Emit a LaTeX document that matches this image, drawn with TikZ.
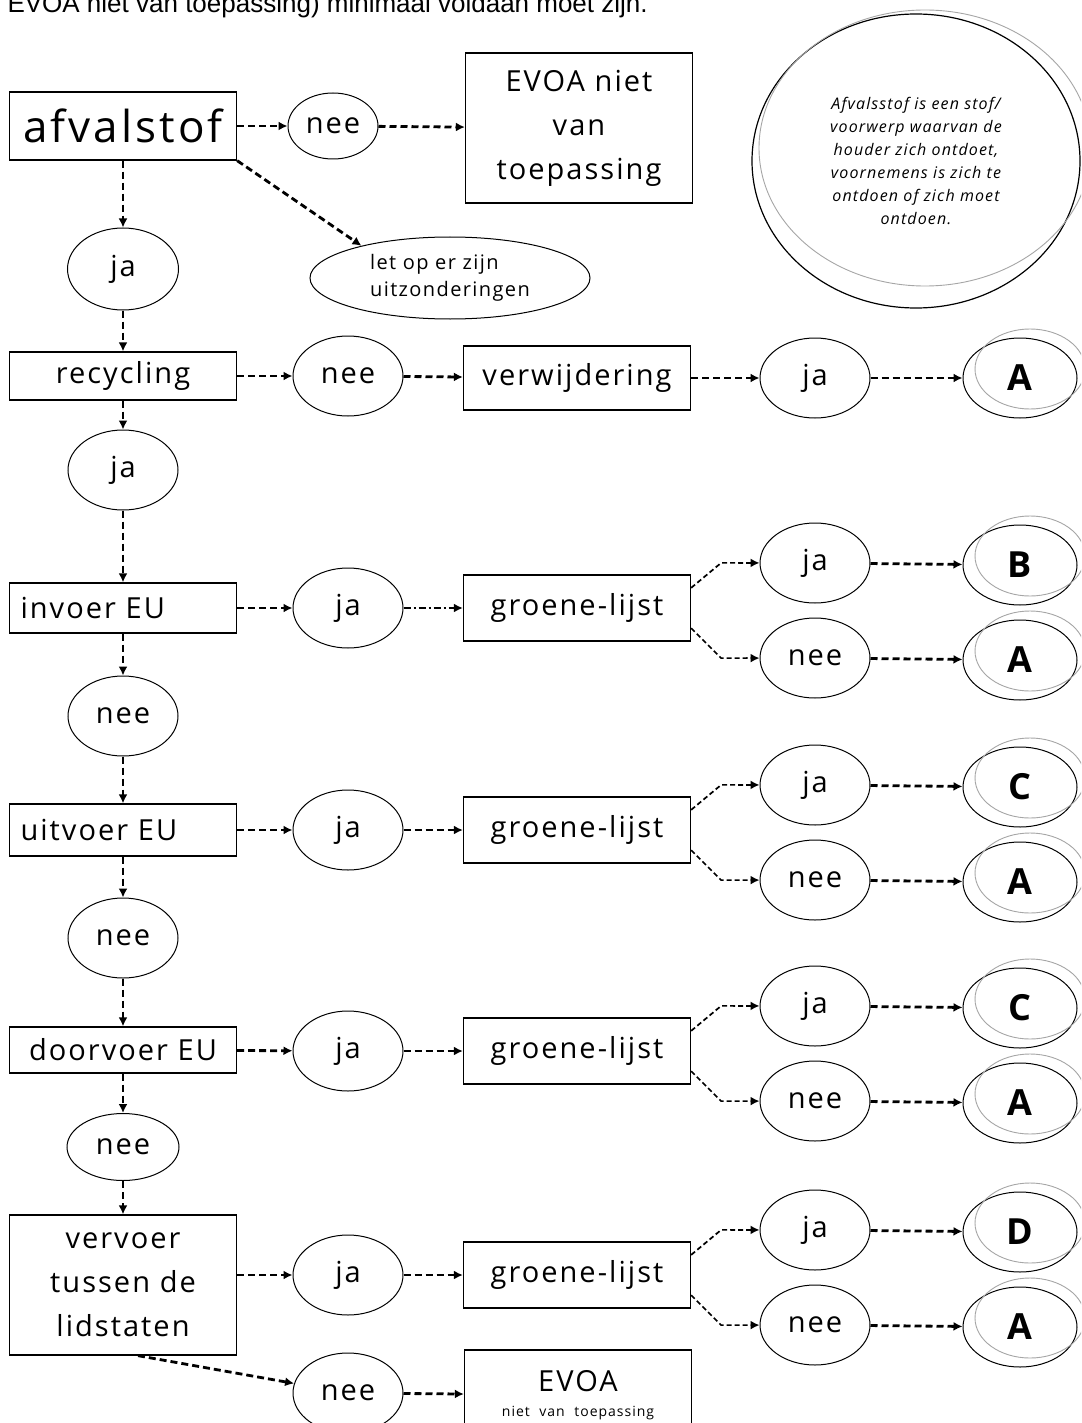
\documentclass[tikz,border=0pt]{standalone}
\usepackage{fontspec}
\setmainfont{Open Sans}[LetterSpace=7]
\newfontfamily\introfont{Liberation Sans}
\usetikzlibrary{positioning,shapes.geometric,arrows.meta}

\begin{document}
\begin{tikzpicture}[x=1pt, y=-1pt, >={Latex[length=9pt,width=9pt]},
    every node/.style={font=\fontsize{29}{32}\selectfont},
    box/.style={draw, line width=1.3pt, text width=205pt, inner xsep=11pt, align=center, minimum height=50pt},
    oval/.style={draw, ellipse, line width=1pt, minimum width=110pt, minimum height=80pt, inner sep=0pt},
    letter/.style={oval, minimum width=114pt, font=\fontsize{36}{40}\selectfont\bfseries},
    flow/.style={->, line width=2.8pt, dash pattern=on 7pt off 4pt},
    dotflow/.style={flow, dash pattern=on 7pt off 3pt on 2pt off 3pt},
    branch/.style={->, line width=1.7pt, dash pattern=on 5pt off 3pt},
    echo/.style={draw=gray!70, line width=0.9pt}]
    \clip (0,0) rectangle (1081,1423);
    \fill[white] (0,0) rectangle (1081,1423);
    \node[anchor=base west, font=\introfont\fontsize{26}{28}\selectfont] (intro) at (4,13) {EVOA niet van toepassing) minimaal voldaan moet zijn.};

    \node[box, minimum height=68pt, font=\fontsize{44}{48}\selectfont] (afv) at (123,126) {afvalstof};
    \node[oval, minimum width=90pt, minimum height=66pt] (nee1) at (333,126) {nee};
    \node[box, minimum height=150pt, font=\fontsize{29}{44}\selectfont] (evoa1) at (579,128) {EVOA niet\\van\\toepassing};
    \node[draw, ellipse, line width=1.2pt, minimum width=328pt, minimum height=294pt, align=center, inner sep=0pt,
          font=\itshape\fontsize{16}{23}\selectfont] (def) at (916,161)
         {Afvalsstof is een stof/\\voorwerp waarvan de\\houder zich ontdoet,\\voornemens is zich te\\ontdoen of zich moet\\ontdoen.};
    \draw[echo] ([shift={(9,-13)}]def.center) ellipse [x radius=166, y radius=138];

    \node[oval, minimum width=111pt, minimum height=82pt] (ja1) at (123,269) {ja};
    \node[oval, minimum width=280pt, minimum height=82pt, align=left, font=\fontsize{20}{27}\selectfont] (letop) at (450,278) {let op er zijn\\uitzonderingen};

    \node[box, minimum height=48pt] (rec) at (123,376) {recycling};
    \node[oval] (nee2) at (348,376) {nee};
    \node[box, minimum height=64pt] (verw) at (577,378) {verwijdering};
    \node[oval] (ja2) at (815,378) {ja};
    \node[letter] (A1) at (1020,378) {A};
    \draw[echo] ([shift={(10,-9)}]A1.center) ellipse [x radius=55, y radius=40];

    \node[oval] (ja3) at (123,470) {ja};
    \node[box, align=left] (inv) at (123,608) {invoer EU};
    \node[oval] (ja4) at (348,608) {ja};
    \node[oval] (nee4) at (123,716) {nee};
    \node[box, align=left, minimum height=52pt] (uit) at (123,830) {uitvoer EU};
    \node[oval] (ja5) at (348,830) {ja};
    \node[oval] (nee5) at (123,938) {nee};
    \node[box, minimum height=46pt] (door) at (123,1050) {doorvoer EU};
    \node[oval] (ja6) at (348,1051) {ja};
    \node[oval, minimum width=112pt, minimum height=67pt] (nee6) at (123,1147) {nee};
    \node[box, minimum height=140pt, font=\fontsize{29}{44}\selectfont] (verv) at (123,1285) {vervoer\\tussen de\\lidstaten};
    \node[oval] (ja7) at (348,1275) {ja};
    \node[oval] (nee7) at (348,1393) {nee};
    \node[box, minimum height=90pt] (evoa2) at (578,1395) {EVOA\\[9pt]{\fontsize{14}{16}\selectfont niet van toepassing\par}};

    \foreach \gy/\lt/\n in {608/B/1,830/C/2,1051/C/3,1275/D/4} {
      \node[box, minimum height=66pt] (g\n) at (577,\gy) {groene-lijst};
      \node[oval] (gj\n) at (815,\gy-45) {ja};
      \node[oval] (gn\n) at (815,\gy+50) {nee};
      \node[letter] (gl\n) at (1020,\gy-43) {\lt};
      \node[letter] (ga\n) at (1020,\gy+52) {A};
      \draw[echo] ([shift={(10,-9)}]gl\n.center) ellipse [x radius=55, y radius=40];
      \draw[echo] ([shift={(10,-9)}]ga\n.center) ellipse [x radius=55, y radius=40];
      \draw[branch] (g\n.10) -- ++(30,-25) -- (gj\n);
      \draw[branch] (g\n.-10) -- ++(30,30) -- (gn\n);
      \draw[flow] (gj\n) -- (gl\n);
      \draw[flow] (gn\n) -- (ga\n);
    }

    \draw[flow] (afv) -- (nee1);
    \draw[flow] (nee1) -- (evoa1);
    \draw[flow] (afv.south east) -- (letop.160);
    \draw[flow] (afv) -- (ja1);
    \draw[flow] (ja1) -- (rec);
    \draw[flow] (rec) -- (nee2);
    \draw[flow] (nee2) -- (verw);
    \draw[flow] (verw) -- (ja2);
    \draw[flow] (ja2) -- (A1);
    \draw[flow] (rec) -- (ja3);
    \draw[flow] (ja3) -- (inv);
    \draw[flow] (inv) -- (ja4);
    \draw[dotflow] (ja4) -- (g1);
    \draw[flow] (inv) -- (nee4);
    \draw[flow] (nee4) -- (uit);
    \draw[flow] (uit) -- (ja5);
    \draw[flow] (ja5) -- (g2);
    \draw[flow] (uit) -- (nee5);
    \draw[flow] (nee5) -- (door);
    \draw[flow] (door) -- (ja6);
    \draw[flow] (ja6) -- (g3);
    \draw[flow] (door) -- (nee6);
    \draw[flow] (nee6) -- (verv);
    \draw[flow] (verv.east |- ja7) -- (ja7);
    \draw[flow] (ja7) -- (g4);
    \draw[flow] ([xshift=15pt]verv.south) -- (nee7);
    \draw[flow] (nee7) -- (evoa2);
\end{tikzpicture}
\end{document}
